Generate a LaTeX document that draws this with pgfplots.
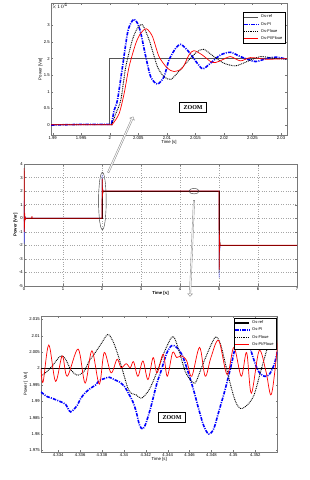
\documentclass[border=0pt]{standalone}
\usepackage{pgfplots}
\pgfplotsset{compat=1.18}
\usepackage{fontspec}
\setmainfont{Liberation Sans}
\newfontfamily\zoomfont{Liberation Serif}
\usetikzlibrary{shapes.arrows}

\definecolor{refgray}{RGB}{85,85,85}
\definecolor{piblue}{RGB}{0,0,255}
\definecolor{axgray}{RGB}{120,120,120}

\pgfplotsset{
  myaxis/.style={
    scale only axis,
    anchor=south west,
    axis line style={draw=axgray, line width=0.5pt},
    tick style={draw=axgray, line width=0.3pt},
    tick align=inside,
    major tick length=2pt,
    tick label style={font=\fontsize{4.2}{4.5}\selectfont, inner sep=1pt},
    label style={font=\fontsize{4.3}{5}\selectfont},
    /pgf/number format/assume math mode=true,
    xlabel style={yshift=3pt},
    ylabel style={yshift=-3pt},
    legend cell align=left,
    legend image code/.code={\draw[##1] (0pt,0pt) -- (14pt,0pt);},
    legend style={font=\fontsize{4}{4.3}\selectfont, draw=black, line width=0.4pt, inner sep=0.6pt, row sep=-1.2pt, fill=white},
  },
  sref/.style={refgray, line width=1.1pt},
  spi/.style={piblue, line width=1.6pt, dash pattern=on 3.5pt off 1.2pt on 1pt off 1.2pt},
  sfl/.style={black, line width=0.9pt, dash pattern=on 0.9pt off 0.9pt},
  spf/.style={red, line width=0.7pt},
}

\begin{document}
\begin{tikzpicture}[x=1pt,y=1pt]
\useasboundingbox (0,0) rectangle (309,480);

% ================= TOP ZOOM =================
\begin{axis}[myaxis,
  at={(51pt,345pt)}, width=236pt, height=132pt,
  xmin=1.9897, xmax=2.03105, ymin=-0.31, ymax=3.68,
  xtick={1.99,1.995,2,2.005,2.01,2.015,2.02,2.025,2.03},
  xticklabels={1.99,1.995,2,2.005,2.01,2.015,2.02,2.025,2.03},
  ytick={0,0.5,1,1.5,2,2.5,3},
  yticklabels={0,0.5,1,1.5,2,2.5,3},
  xlabel={Time [s]}, ylabel={Power [Var]},
  legend style={at={(0.992,0.93)}, anchor=north east},
  clip=true]
\addplot[sref] coordinates {(1.9897,0) (2.0,0) (2.0,2) (2.03105,2)};
\addplot[spi, smooth, tension=0.45] coordinates {
(1.9897,-0.01) (1.995,0.01) (2.0,0.01) (2.00031,0.03) (2.00077,0.44) (2.00135,0.75) (2.00223,1.76)
(2.00310,2.77) (2.00368,3.07) (2.00426,3.19) (2.00485,3.07) (2.00543,2.77) (2.00630,2.06)
(2.00717,1.45) (2.00834,1.23) (2.00950,1.45) (2.01038,1.96) (2.01154,2.31) (2.01241,2.43)
(2.01358,2.26) (2.01533,1.86) (2.01632,1.69) (2.01765,1.86) (2.01940,2.11) (2.02115,2.19)
(2.02289,2.06) (2.02551,1.91) (2.02755,2.01) (2.02930,2.04) (2.03105,1.98)};
\addplot[sfl, smooth, tension=0.45] coordinates {
(1.9897,0) (1.995,0) (2.0,0) (2.00036,0.02) (2.00106,0.34) (2.00194,0.75) (2.00281,1.76)
(2.00397,2.57) (2.00485,2.92) (2.00572,3.02) (2.00688,2.57) (2.00834,1.76) (2.00950,1.45)
(2.01067,1.37) (2.01183,1.56) (2.01387,1.96) (2.01533,2.21) (2.01649,2.28) (2.01824,2.06)
(2.01998,1.86) (2.02202,1.78) (2.02406,1.91) (2.02639,2.06) (2.02872,2.01) (2.03105,1.98)};
\addplot[spf, smooth, tension=0.45] coordinates {
(1.9897,0) (1.995,0) (2.0,0) (2.00048,0.02) (2.00164,0.34) (2.00252,0.95) (2.00339,1.76)
(2.00456,2.46) (2.00543,2.77) (2.00642,2.90) (2.00747,2.67) (2.00863,2.06) (2.01009,1.71)
(2.01125,1.61) (2.01271,1.71) (2.01387,2.11) (2.01474,2.24) (2.01620,2.11) (2.01765,1.91)
(2.01853,1.88) (2.01969,1.96) (2.02115,2.06) (2.02289,1.93) (2.02464,2.03) (2.02755,1.98)
(2.03105,2.00)};
\legend{Os-ref,Os-PI,Os-Floue,Os-PI/Floue}
\node[draw=black, line width=0.6pt, fill=white, inner xsep=4pt, inner ysep=3pt, font=\zoomfont\bfseries\fontsize{6}{6}\selectfont] at (axis cs:2.0146,0.53) {ZOOM};
\node[anchor=north west, font=\fontsize{3.8}{4}\selectfont, inner sep=0.5pt] at (rel axis cs:0,1) {$\times 10^{4}$};
\end{axis}

% ================= MIDDLE FULL =================
\begin{axis}[myaxis,
  at={(24pt,194pt)}, width=273pt, height=122pt,
  xmin=0, xmax=7, ymin=-5, ymax=4,
  xtick={0,1,...,7}, ytick={-5,-4,...,4},
  xticklabels={0,1,2,3,4,5,6,7},
  yticklabels={-5,-4,-3,-2,-1,0,1,2,3,4},
  grid=major, grid style={draw=gray!70, dotted, line width=0.4pt},
  xlabel={\bfseries Time [s]}, ylabel={\bfseries Power [Var]},
  clip=true]
\addplot[piblue!70, line width=0.5pt] coordinates {
(0,0) (0.002,1.3) (0.006,-1.9) (0.012,0.6) (0.02,-0.3) (0.03,0.1) (0.05,0) (2,0)
(2.0043,3.19) (2.0083,1.23) (2.0124,2.43) (2.0163,1.69) (2.0212,2.19) (2.03,2) (5,2)
(5.0043,-4.38) (5.0083,-0.46) (5.0124,-2.86) (5.0163,-1.38) (5.0212,-2.38) (5.03,-2) (7,-2)};
\addplot[black!70, line width=0.5pt] coordinates {
(0,0) (0.003,1.0) (0.008,-0.8) (0.015,0.2) (0.03,0) (2,0)
(2.0057,3.02) (2.0107,1.37) (2.0165,2.28) (2.022,1.78) (2.03,2) (5,2)
(5.0057,-4.04) (5.0107,-0.74) (5.0165,-2.56) (5.022,-1.56) (5.03,-2) (7,-2)};
\addplot[black, line width=0.5pt] coordinates {(0,0) (2,0) (2,2) (5,2) (5,-2) (7,-2)};
\addplot[red!85!black, line width=0.75pt] coordinates {
(0,0) (0.003,3.7) (0.008,-1.0) (0.015,0.4) (0.03,-0.1) (0.05,0) (0.2,0) (0.203,0.15) (0.21,0) (2,0)
(2.0064,2.9) (2.0113,1.61) (2.0147,2.24) (2.0185,1.88) (2.03,2) (5,2)
(5.0064,-3.8) (5.0113,-1.22) (5.0147,-2.48) (5.0185,-1.76) (5.03,-2) (6,-2) (7,-2)};
\draw[black!80, line width=0.4pt] (axis cs:2.01,1.27) ellipse [x radius=3.8pt, y radius=28.7pt];
\draw[black!80, line width=0.4pt] (axis cs:4.36,2) ellipse [x radius=5pt, y radius=2.8pt];
\node[anchor=south west, font=\fontsize{3.8}{4}\selectfont, inner sep=0.5pt] at (rel axis cs:0,1) {$\times 10^{4}$};
\end{axis}

% ================= BOTTOM ZOOM =================
\begin{axis}[myaxis,
  at={(41pt,28pt)}, width=236.5pt, height=136pt,
  xmin=4.33243, xmax=4.35403, ymin=1.9745, ymax=2.016,
  xtick={4.334,4.336,4.338,4.34,4.342,4.344,4.346,4.348,4.35,4.352},
  xticklabels={4.334,4.336,4.338,4.34,4.342,4.344,4.346,4.348,4.35,4.352},
  ytick={1.975,1.98,1.985,1.99,1.995,2,2.005,2.01,2.015},
  yticklabels={1.975,1.98,1.985,1.99,1.995,2,2.005,2.01,2.015},
  xlabel={Time [s]}, ylabel={Power [ Var]},
  legend style={at={(0.995,0.985)}, anchor=north east},
  clip=true]
\addplot[black, line width=1.1pt] coordinates {(4.33243,2) (4.35403,2)};
\addplot[spi, smooth, tension=0.5] coordinates {
(4.33243,1.99280) (4.33299,1.99140) (4.33345,1.99088) (4.33422,1.98984) (4.33468,1.98902)
(4.33514,1.98674) (4.33575,1.98881) (4.33606,1.99088) (4.33652,1.99275) (4.33698,1.99399)
(4.33744,1.99503) (4.33775,1.99627) (4.33821,1.99689) (4.33867,1.99731) (4.33913,1.99658)
(4.33959,1.99585) (4.34005,1.99451) (4.34036,1.99275) (4.34082,1.98984) (4.34113,1.98674)
(4.34144,1.98259) (4.34174,1.98155) (4.34205,1.98363) (4.34251,1.98881) (4.34298,1.99503)
(4.34344,1.99969) (4.34390,2.00456) (4.34436,2.00694) (4.34482,2.00643) (4.34528,2.00435)
(4.34574,2.00021) (4.34636,1.99347) (4.34682,1.98777) (4.34728,1.98259) (4.34774,1.98000)
(4.34820,1.98155) (4.34866,1.98674) (4.34928,1.99399) (4.34989,2.00228) (4.35035,2.00953)
(4.35066,2.01368) (4.35100,2.01450) (4.35143,2.00746) (4.35220,1.99969) (4.35281,1.99762)
(4.35327,1.99813) (4.35373,2.00124) (4.35404,2.00539)};
\addplot[sfl, smooth, tension=0.5] coordinates {
(4.33243,1.99762) (4.33284,1.99865) (4.33345,2.00073) (4.33422,2.00383) (4.33468,2.00280)
(4.33514,1.99969) (4.33575,1.99793) (4.33637,1.99917) (4.33683,2.00228) (4.33729,2.00435)
(4.33791,2.00746) (4.33852,2.01036) (4.33898,2.00850) (4.33944,2.00435) (4.33990,1.99917)
(4.34036,1.99399) (4.34067,1.99244) (4.34113,1.99192) (4.34159,1.99088) (4.34220,1.99295)
(4.34267,1.99606) (4.34328,2.00124) (4.34374,2.00539) (4.34436,2.00953) (4.34466,2.00902)
(4.34513,2.00435) (4.34559,1.99917) (4.34605,1.99658) (4.34651,1.99554) (4.34697,1.99917)
(4.34759,2.00435) (4.34835,2.00953) (4.34882,2.00746) (4.34928,2.00124) (4.34974,1.99503)
(4.35020,1.98984) (4.35066,1.98777) (4.35127,1.98881) (4.35189,1.99192) (4.35250,1.99917)
(4.35312,2.00643) (4.35358,2.01161) (4.35404,2.01575)};
\addplot[spf, smooth, tension=0.55] coordinates {
(4.33243,2.0000) (4.33262,1.99585) (4.33314,2.00715) (4.33376,1.99606) (4.33437,2.00383)
(4.33483,1.99762) (4.33582,2.00591) (4.33646,1.99554) (4.33708,2.00539) (4.33775,1.99523)
(4.33821,2.00487) (4.33883,1.99865) (4.33938,2.00280) (4.33975,2.00021) (4.34021,2.00145)
(4.34058,2.00021) (4.34088,2.00207) (4.34128,1.99762) (4.34174,2.00228) (4.34220,1.99658)
(4.34267,2.00332) (4.34303,1.99865) (4.34359,2.00435) (4.34396,1.99762) (4.34445,2.00487)
(4.34482,2.00332) (4.34528,2.00383) (4.34574,2.00228) (4.34620,1.99762) (4.34691,2.00643)
(4.34743,1.99762) (4.34795,2.00332) (4.34866,2.00850) (4.34943,1.99813) (4.35005,2.00643)
(4.35072,1.99762) (4.35121,2.00487) (4.35164,1.99244) (4.35235,2.00539) (4.35297,1.99917)
(4.35342,1.99192) (4.35379,1.99917) (4.35413,2.01109)};
\legend{Os-ref,Os-PI,Os-Floue,Os-PI/Floue}
\node[draw=black, line width=0.6pt, fill=white, inner xsep=4pt, inner ysep=3pt, font=\zoomfont\bfseries\fontsize{6}{6}\selectfont] at (axis cs:4.3444,1.9851) {ZOOM};
\node[anchor=south west, font=\fontsize{3.8}{4}\selectfont, inner sep=0.5pt] at (rel axis cs:0,1) {$\times 10^{4}$};
\end{axis}

% ================= ANNOTATION ARROWS =================
\node[single arrow, draw=gray, fill=white, line width=0.35pt, minimum height=61pt, minimum width=5pt,
  single arrow head extend=1.8pt, inner sep=0.6pt, rotate=65.9] at (120.5,335) {};
\node[single arrow, draw=gray, fill=white, line width=0.35pt, minimum height=96pt, minimum width=4.5pt,
  single arrow head extend=1.8pt, inner sep=0.5pt, rotate=267.6] at (192,232) {};
\end{tikzpicture}
\end{document}
